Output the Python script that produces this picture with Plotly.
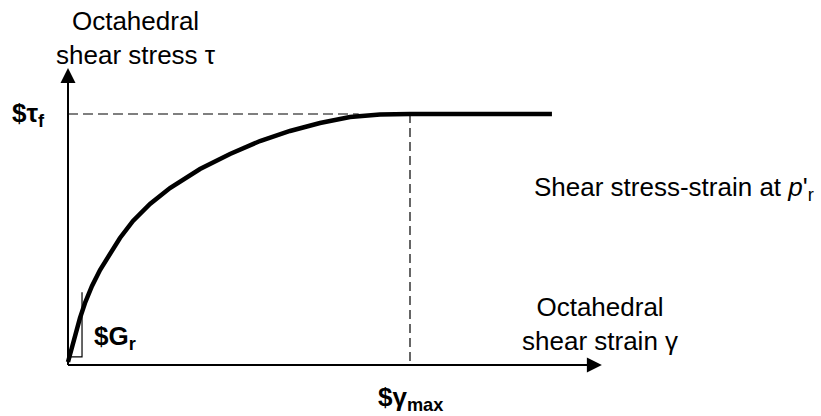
import plotly.graph_objects as go

# ---- data (normalised: gamma / gamma_max, tau / tau_f) ----
strain = [0.0, 0.0117, 0.0234, 0.0351, 0.0497, 0.0702, 0.0936, 0.1228, 0.1520, 0.1901,
          0.2398, 0.2982, 0.3860, 0.4737, 0.5614, 0.6491, 0.7368, 0.8246, 0.9123, 1.0, 1.415]
stress = [0.012, 0.0757, 0.1355, 0.1873, 0.2470, 0.3147, 0.3785, 0.4462, 0.5060, 0.5737,
          0.6414, 0.7052, 0.7809, 0.8406, 0.8924, 0.9323, 0.9641, 0.9880, 0.998, 1.0, 1.0]
gamma_max = 1.0
tau_f = 1.0
gr_box_x = [0.0, 0.041, 0.041]
gr_box_y = [0.032, 0.032, 0.29]
x_axis_end = 1.561
y_axis_end = 1.183

W, H = 821, 416
X0PX, Y0PX, SX, SY = 68, 365, 342.0, 251.0


def px2x(px):
    return (px - X0PX) / SX


def px2y(py):
    return (Y0PX - py) / SY


FONT = "Liberation Sans, Arial, sans-serif"
fig = go.Figure()

# dashed guide lines
fig.add_trace(go.Scatter(x=[0, gamma_max * 0.85], y=[tau_f, tau_f], mode="lines",
                         line=dict(color="black", width=1.2, dash="10px,5px"), hoverinfo="skip"))
fig.add_trace(go.Scatter(x=[gamma_max, gamma_max], y=[tau_f, 0], mode="lines",
                         line=dict(color="black", width=1.2, dash="9px,5px"), hoverinfo="skip"))
# Gr tangent box
fig.add_trace(go.Scatter(x=gr_box_x, y=gr_box_y, mode="lines",
                         line=dict(color="black", width=1.2), hoverinfo="skip"))
# stress-strain curve
fig.add_trace(go.Scatter(x=strain, y=stress, mode="lines",
                         line=dict(color="black", width=4.5), hoverinfo="skip"))

# axes lines
fig.add_trace(go.Scatter(x=[0, x_axis_end - 0.02], y=[0, 0], mode="lines",
                         line=dict(color="black", width=2), hoverinfo="skip"))
fig.add_trace(go.Scatter(x=[0, 0], y=[0, y_axis_end - 0.03], mode="lines",
                         line=dict(color="black", width=2), hoverinfo="skip"))
# arrow heads (tip located at the point)
fig.add_trace(go.Scatter(x=[x_axis_end], y=[0], mode="markers", hoverinfo="skip",
                         marker=dict(symbol="arrow-right", size=15, color="black",
                                     line=dict(width=0))))
fig.add_trace(go.Scatter(x=[0], y=[y_axis_end], mode="markers", hoverinfo="skip",
                         marker=dict(symbol="arrow-up", size=15, color="black",
                                     line=dict(width=0))))

F = dict(family=FONT, size=26, color="black")
fig.add_annotation(x=px2x(136), y=px2y(38), xref="x", yref="y", showarrow=False,
                   text="Octahedral<br>shear stress τ", font=F, align="center")
fig.add_annotation(x=px2x(600), y=px2y(324), xref="x", yref="y", showarrow=False,
                   text="Octahedral<br>shear strain γ", font=F, align="center")
fig.add_annotation(x=px2x(674), y=px2y(188), xref="x", yref="y", showarrow=False,
                   text="Shear stress-strain at <i>p</i>'<sub>r</sub>", font=F)
fig.add_annotation(x=px2x(10), y=tau_f, xref="x", yref="y", showarrow=False, xanchor="left",
                   text="<b>$τ<sub>f</sub></b>", font=F)
fig.add_annotation(x=px2x(92), y=px2y(337), xref="x", yref="y", showarrow=False, xanchor="left",
                   text="<b>$G<sub>r</sub></b>", font=F)
fig.add_annotation(x=gamma_max, y=px2y(398), xref="x", yref="y", showarrow=False,
                   text="<b>$γ<sub>max</sub></b>", font=F)

fig.update_layout(
    width=W, height=H, autosize=False,
    margin=dict(l=0, r=0, t=0, b=0),
    paper_bgcolor="white", plot_bgcolor="white",
    showlegend=False,
    xaxis=dict(range=[px2x(0), px2x(W)], visible=False, fixedrange=True),
    yaxis=dict(range=[px2y(H), px2y(0)], visible=False, fixedrange=True),
)

fig.write_html("out.html", config={"displayModeBar": False},
               post_script="document.body.style.margin='0';")
